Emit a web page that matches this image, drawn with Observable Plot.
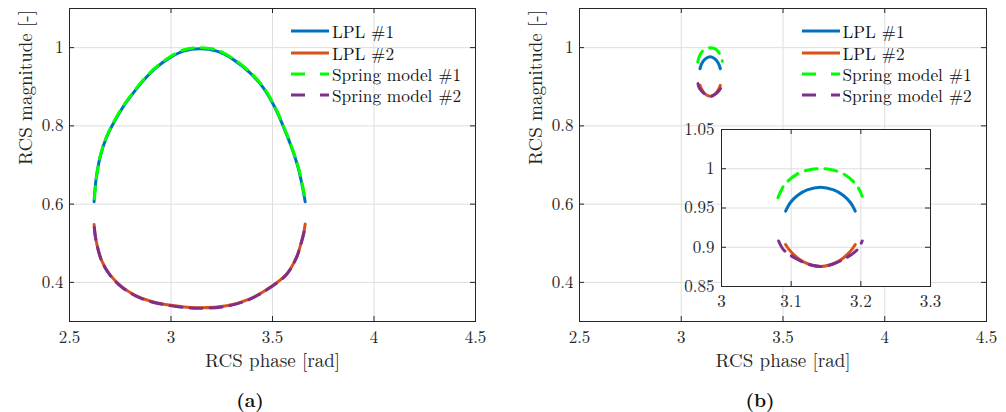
<!DOCTYPE html>
<html>
<head>
<meta charset="utf-8">
<script src="https://cdn.jsdelivr.net/npm/d3@7"></script>
<script src="https://cdn.jsdelivr.net/npm/@observablehq/plot@0.6"></script>
<style>
  html, body { margin: 0; padding: 0; background: #fff; }
  #root { position: relative; width: 1006px; height: 412px; background: #fff; font-family: "Latin Modern Roman", "Liberation Serif", serif; color: #262626; overflow: hidden; }
  .abs { position: absolute; }
  .legrow { position: absolute; height: 18px; line-height: 18px; display: flex; align-items: center; font-family: "Latin Modern Roman", "Liberation Serif", serif; font-size: 17.3px; white-space: nowrap; color: #111; }
  .legrow svg { margin-right: 3px; }
  .cap { position: absolute; font-family: "Latin Modern Roman", "Liberation Serif", serif; font-weight: bold; font-size: 19px; transform: translateX(-50%); color: #111; }
</style>
</head>
<body>
<div id="root"></div>
<script>
// ---------- data ----------
const seriesNames = ["LPL #1", "LPL #2", "Spring model #1", "Spring model #2"];
const seriesColors = ["#0072BD", "#D95319", "#00FF00", "#7E2F8E"];
const xTicksMain = [2.5, 3, 3.5, 4, 4.5];
const yTicksMain = [0.4, 0.6, 0.8, 1];
const xTicksInset = [3, 3.1, 3.2, 3.3];
const yTicksInset = [0.85, 0.9, 0.95, 1, 1.05];

// panel (a)
const lpl1A_phase = [2.621, 2.631, 2.651, 2.683, 2.724, 2.774, 2.820, 2.864, 2.930, 2.997, 3.061, 3.143, 3.225, 3.306, 3.388, 3.454, 3.512, 3.552, 3.594, 3.626, 3.648, 3.661];
const lpl1A_mag   = [0.606, 0.664, 0.721, 0.772, 0.814, 0.856, 0.888, 0.916, 0.950, 0.975, 0.991, 0.997, 0.991, 0.970, 0.936, 0.898, 0.847, 0.800, 0.745, 0.694, 0.643, 0.606];
const spr1A_phase = [2.623, 2.633, 2.652, 2.684, 2.724, 2.774, 2.820, 2.864, 2.930, 2.997, 3.061, 3.143, 3.225, 3.306, 3.388, 3.454, 3.512, 3.552, 3.594, 3.626, 3.648, 3.662];
const spr1A_mag   = [0.614, 0.669, 0.724, 0.774, 0.816, 0.858, 0.890, 0.918, 0.952, 0.977, 0.994, 1.000, 0.994, 0.972, 0.938, 0.900, 0.849, 0.802, 0.747, 0.697, 0.647, 0.612];
const lpl2A_phase = [2.621, 2.627, 2.635, 2.659, 2.700, 2.757, 2.823, 2.905, 2.990, 3.126, 3.274, 3.389, 3.487, 3.569, 3.618, 3.643, 3.655, 3.661];
const lpl2A_mag   = [0.548, 0.520, 0.497, 0.455, 0.419, 0.389, 0.367, 0.351, 0.342, 0.335, 0.340, 0.358, 0.387, 0.421, 0.464, 0.505, 0.530, 0.549];
const spr2A_phase = [2.622, 2.627, 2.635, 2.659, 2.700, 2.757, 2.823, 2.905, 2.990, 3.126, 3.274, 3.389, 3.487, 3.569, 3.618, 3.643, 3.655, 3.660];
const spr2A_mag   = [0.540, 0.518, 0.496, 0.454, 0.418, 0.388, 0.366, 0.350, 0.341, 0.334, 0.339, 0.357, 0.386, 0.420, 0.463, 0.503, 0.527, 0.541];

// panel (b)
const lpl1B_phase = [3.092, 3.099, 3.109, 3.123, 3.142, 3.161, 3.175, 3.185, 3.192];
const lpl1B_mag   = [0.946, 0.957, 0.966, 0.973, 0.9765, 0.973, 0.966, 0.957, 0.946];
const spr1B_phase = [3.081, 3.090, 3.109, 3.128, 3.142, 3.156, 3.175, 3.194, 3.202];
const spr1B_mag   = [0.963, 0.979, 0.9935, 0.999, 1.000, 0.999, 0.9935, 0.979, 0.965];
const lpl2B_phase = [3.092, 3.097, 3.104, 3.111, 3.1185, 3.130, 3.142, 3.154, 3.1655, 3.173, 3.180, 3.187, 3.192];
const lpl2B_mag   = [0.9035, 0.897, 0.8905, 0.885, 0.881, 0.877, 0.8755, 0.877, 0.881, 0.885, 0.8905, 0.897, 0.9035];
const spr2B_phase = [3.082, 3.088, 3.097, 3.108, 3.1185, 3.130, 3.142, 3.154, 3.1655, 3.176, 3.187, 3.196, 3.202];
const spr2B_mag   = [0.908, 0.898, 0.891, 0.885, 0.8805, 0.877, 0.8755, 0.877, 0.8805, 0.885, 0.891, 0.898, 0.908];

// ---------- helpers ----------
const zip = (xs, ys) => xs.map((x, i) => ({x, y: ys[i]}));
const fmt = d => String(+(+d).toFixed(2));
const FONT = '"Latin Modern Roman", "Liberation Serif", serif';
const DASH = "12,8";
const GRID = "#dedede";
const INK = "#262626";
const CURVE = "catmull-rom";

function seriesMarks(sets) {
  const [l1, l2, s1, s2] = sets;
  return [
    Plot.line(l1, {x: "x", y: "y", stroke: seriesColors[0], strokeWidth: 3, curve: CURVE}),
    Plot.line(l2, {x: "x", y: "y", stroke: seriesColors[1], strokeWidth: 3, curve: CURVE}),
    Plot.line(s1, {x: "x", y: "y", stroke: seriesColors[2], strokeWidth: 3, strokeDasharray: DASH, curve: CURVE}),
    Plot.line(s2, {x: "x", y: "y", stroke: seriesColors[3], strokeWidth: 3, strokeDasharray: DASH, curve: CURVE})
  ];
}

function axesMarks(xTicks, yTicks, fw, fh, padX, padY, withLabels) {
  const t = 5;
  const marks = [
    Plot.axisX({ticks: xTicks, tickSize: 0, tickPadding: padX, tickFormat: fmt, label: null, fontSize: 17, fill: INK, fontFamily: FONT}),
    Plot.axisY({ticks: yTicks, tickSize: 0, tickPadding: padY, tickFormat: fmt, label: null, fontSize: 17, fill: INK, fontFamily: FONT}),
    Plot.tickX(xTicks, {x: d => d, stroke: INK, insetTop: fh - t}),
    Plot.tickX(xTicks, {x: d => d, stroke: INK, insetBottom: fh - t}),
    Plot.tickY(yTicks, {y: d => d, stroke: INK, insetRight: fw - t}),
    Plot.tickY(yTicks, {y: d => d, stroke: INK, insetLeft: fw - t})
  ];
  if (withLabels) {
    marks.push(
      Plot.text(["RCS phase [rad]"], {frameAnchor: "bottom", dy: 39, fontSize: 19, fill: INK, lineAnchor: "middle", fontFamily: FONT}),
      Plot.text(["RCS magnitude [-]"], {frameAnchor: "left", dx: -44, rotate: -90, fontSize: 19, fill: INK, lineAnchor: "middle", fontFamily: FONT})
    );
  }
  return marks;
}

function mainPanel(sets, width, ml, mr) {
  const mt = 8, mb = 49, height = 370;
  const fw = width - ml - mr, fh = height - mt - mb;
  return Plot.plot({
    width, height, marginLeft: ml, marginRight: mr, marginTop: mt, marginBottom: mb,
    style: {fontFamily: FONT, fontSize: "17px", background: "transparent", color: INK, overflow: "visible"},
    x: {domain: [2.5, 4.5]},
    y: {domain: [0.3, 1.1]},
    marks: [
      Plot.gridX(xTicksMain, {stroke: GRID, strokeOpacity: 1}),
      Plot.gridY(yTicksMain, {stroke: GRID, strokeOpacity: 1}),
      ...seriesMarks(sets),
      Plot.frame({stroke: INK}),
      ...axesMarks(xTicksMain, yTicksMain, fw, fh, 9, 6, true)
    ]
  });
}

function insetPanel(sets) {
  const width = 265, height = 199, ml = 41, mr = 15, mt = 14, mb = 28;
  const fw = width - ml - mr, fh = height - mt - mb;
  return Plot.plot({
    width, height, marginLeft: ml, marginRight: mr, marginTop: mt, marginBottom: mb,
    style: {fontFamily: FONT, fontSize: "17px", background: "transparent", color: INK, overflow: "visible"},
    x: {domain: [3, 3.3]},
    y: {domain: [0.85, 1.05]},
    marks: [
      Plot.frame({fill: "white", stroke: "none"}),
      Plot.gridX(xTicksInset, {stroke: GRID, strokeOpacity: 1}),
      Plot.gridY(yTicksInset, {stroke: GRID, strokeOpacity: 1}),
      ...seriesMarks(sets),
      Plot.frame({stroke: INK}),
      ...axesMarks(xTicksInset, yTicksInset, fw, fh, 8, 7, false)
    ]
  });
}

function legend(root, lineLeft, rowYs) {
  seriesNames.forEach((name, i) => {
    const row = document.createElement("div");
    row.className = "legrow";
    row.style.left = lineLeft + "px";
    row.style.top = (rowYs[i] - 9) + "px";
    const dashed = i >= 2;
    row.innerHTML = `<svg width="38" height="6"><line x1="0" y1="3" x2="38" y2="3" stroke="${seriesColors[i]}" stroke-width="3" ${dashed ? 'stroke-dasharray="14,15"' : ""}/></svg><span>${name}</span>`;
    root.appendChild(row);
  });
}

// ---------- build ----------
const root = document.getElementById("root");
const setsA = [zip(lpl1A_phase, lpl1A_mag), zip(lpl2A_phase, lpl2A_mag), zip(spr1A_phase, spr1A_mag), zip(spr2A_phase, spr2A_mag)];
const setsB = [zip(lpl1B_phase, lpl1B_mag), zip(lpl2B_phase, lpl2B_mag), zip(spr1B_phase, spr1B_mag), zip(spr2B_phase, spr2B_mag)];

const pa = mainPanel(setsA, 500, 69, 25);
pa.classList.add("abs"); pa.style.left = "0px"; pa.style.top = "0px";
root.appendChild(pa);

const pb = mainPanel(setsB, 506, 79, 20);
pb.classList.add("abs"); pb.style.left = "500px"; pb.style.top = "0px";
root.appendChild(pb);

const pi = insetPanel(setsB);
pi.classList.add("abs"); pi.style.left = "680px"; pi.style.top = "115px";
root.appendChild(pi);

const rowYs = [31, 52.5, 73.5, 95.3];
legend(root, 291, rowYs);
legend(root, 801.5, rowYs);

const capA = document.createElement("div"); capA.className = "cap"; capA.textContent = "(a)";
capA.style.left = "250px"; capA.style.top = "385px"; root.appendChild(capA);
const capB = document.createElement("div"); capB.className = "cap"; capB.textContent = "(b)";
capB.style.left = "760px"; capB.style.top = "385px"; root.appendChild(capB);
</script>
</body>
</html>
